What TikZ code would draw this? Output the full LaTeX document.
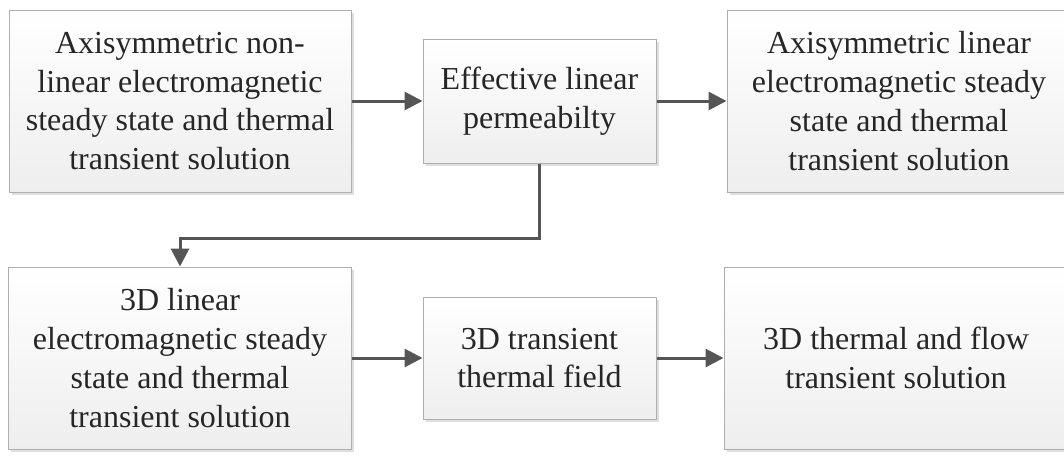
\documentclass[tikz,border=0pt]{standalone}
\usepackage{fontspec}
\setmainfont{Liberation Serif}
\usetikzlibrary{arrows.meta,shadows}
\definecolor{boxline}{HTML}{AFAFAF}
\definecolor{boxlow}{HTML}{EEEEEE}
\definecolor{arrowgray}{HTML}{555555}
\definecolor{textgray}{HTML}{262626}
\tikzset{
  stage/.style={draw=boxline, line width=1pt, top color=white, bottom color=boxlow,
    align=center, text=textgray, inner sep=0pt,
    font=\fontsize{32}{38.7}\selectfont,
    drop shadow={shadow xshift=2.5pt, shadow yshift=-2.5pt, opacity=0.25, fill=gray}},
  flow/.style={draw=arrowgray, line width=3pt,
    -{Triangle[length=18pt,width=18pt]}},
}
\begin{document}
\begin{tikzpicture}[x=1pt,y=-1pt]
\useasboundingbox (0,0) rectangle (1064,472);
\clip (0,0) rectangle (1064,472);
\fill[white] (0,0) rectangle (1064,472);

\node[stage, minimum width=342pt, minimum height=182pt] (b1) at (180,101)
  {Axisymmetric non-\\linear electromagnetic\\steady state and thermal\\transient solution};
\node[stage, minimum width=233pt, minimum height=124pt] (b2) at (539.5,101)
  {Effective linear\\permeabilty};
\node[stage, minimum width=344pt, minimum height=182pt] (b3) at (899,101)
  {Axisymmetric linear\\electromagnetic steady\\state and thermal\\transient solution};

\node[stage, minimum width=343pt, minimum height=182pt] (b4) at (180,358)
  {3D linear\\electromagnetic steady\\state and thermal\\transient solution};
\node[stage, minimum width=233pt, minimum height=122pt] (b5) at (539.5,358)
  {3D transient\\thermal field};
\node[stage, minimum width=344pt, minimum height=182pt] (b6) at (896,358)
  {3D thermal and flow\\transient solution};

\coordinate (bend) at (539.5,238);
\draw[flow] (b1.east) -- (b2.west);
\draw[flow] (b2.east) -- (b3.west);
\draw[flow] (b2.south) -- (bend) -| (b4.north);
\draw[flow] (b4.east) -- (b5.west);
\draw[flow] (b5.east) -- (b6.west);
\end{tikzpicture}
\end{document}
